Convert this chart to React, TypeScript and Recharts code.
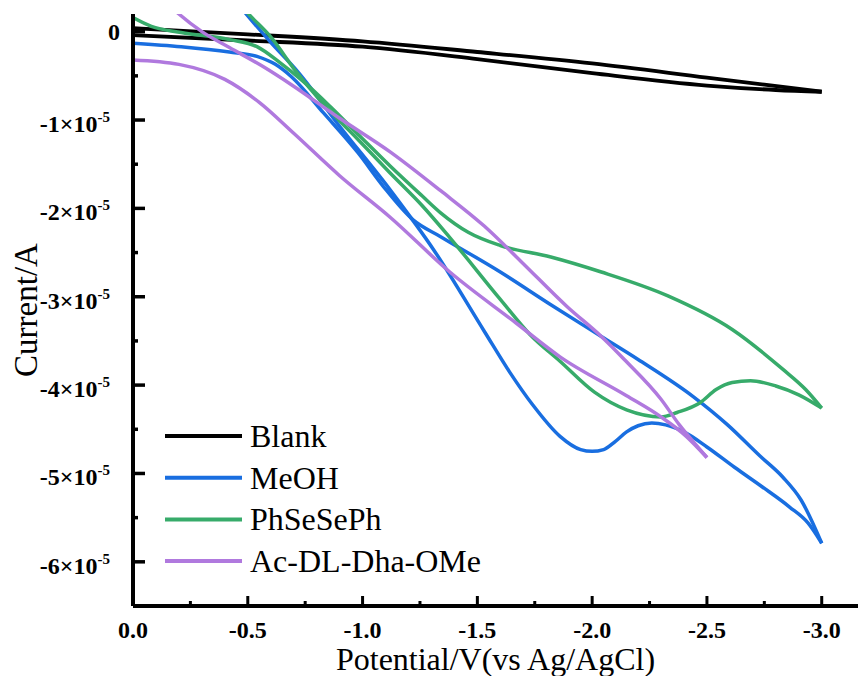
import { LineChart, Line, XAxis, YAxis, Legend, Label } from 'recharts'

// [potential (V), current (x1e-5 A)] pairs, one array per scan branch
type Pt = [number, number]

const blankOut: Pt[] = [[0, 0.04], [-0.5, -0.03], [-1.0, -0.11], [-1.5, -0.23], [-2.0, -0.36], [-2.5, -0.52], [-3.0, -0.68]]
const blankBack: Pt[] = [[0, -0.04], [-0.5, -0.1], [-1.0, -0.17], [-1.5, -0.31], [-2.0, -0.47], [-2.5, -0.61], [-2.8, -0.66], [-3.0, -0.68]]

const meohOut: Pt[] = [
  [-0.44, 0.37], [-0.49, 0.21], [-0.6, -0.12], [-0.72, -0.46], [-0.9, -1.07], [-1.12, -1.79], [-1.31, -2.47],
  [-1.53, -3.39], [-1.64, -3.85], [-1.74, -4.22], [-1.86, -4.58], [-1.95, -4.73], [-2.0, -4.75], [-2.05, -4.73],
  [-2.1, -4.64], [-2.15, -4.53], [-2.2, -4.46], [-2.26, -4.43], [-2.32, -4.45], [-2.4, -4.53], [-2.5, -4.7],
  [-2.62, -4.93], [-2.74, -5.15], [-2.86, -5.38], [-2.94, -5.56], [-3.0, -5.79],
]
const meohBack: Pt[] = [
  [0, -0.13], [-0.21, -0.17], [-0.42, -0.23], [-0.54, -0.28], [-0.62, -0.37], [-0.69, -0.51], [-0.83, -0.92],
  [-0.98, -1.37], [-1.09, -1.75], [-1.22, -2.13], [-1.34, -2.32], [-1.6, -2.72], [-1.82, -3.09], [-2.04, -3.45],
  [-2.2, -3.71], [-2.44, -4.13], [-2.59, -4.45], [-2.73, -4.8], [-2.83, -5.04], [-2.91, -5.3], [-3.0, -5.79],
]

const phseOut: Pt[] = [
  [-0.45, 0.36], [-0.5, 0.21], [-0.6, -0.06], [-0.71, -0.45], [-0.83, -0.82], [-0.98, -1.22], [-1.12, -1.6],
  [-1.26, -1.97], [-1.38, -2.33], [-1.6, -3.03], [-1.73, -3.43], [-1.86, -3.73], [-2.01, -4.08], [-2.15, -4.28],
  [-2.3, -4.36], [-2.37, -4.31], [-2.47, -4.2], [-2.54, -4.05], [-2.61, -3.97], [-2.69, -3.95], [-2.8, -4.01],
  [-2.9, -4.11], [-3.0, -4.26],
]
const phseBack: Pt[] = [
  [0, 0.16], [-0.08, 0.06], [-0.21, -0.01], [-0.42, -0.09], [-0.54, -0.17], [-0.64, -0.35], [-0.74, -0.56],
  [-0.86, -0.85], [-0.98, -1.16], [-1.12, -1.52], [-1.26, -1.86], [-1.34, -2.05], [-1.46, -2.27], [-1.6, -2.42],
  [-1.82, -2.55], [-2.04, -2.72], [-2.33, -2.99], [-2.61, -3.37], [-2.83, -3.82], [-2.93, -4.05], [-3.0, -4.26],
]

const dhaOut: Pt[] = [
  [-0.15, 0.32], [-0.2, 0.2], [-0.3, 0.0], [-0.42, -0.18], [-0.57, -0.4], [-0.69, -0.6], [-0.9, -0.98],
  [-1.12, -1.36], [-1.34, -1.8], [-1.53, -2.2], [-1.69, -2.6], [-1.89, -3.11], [-2.04, -3.45], [-2.14, -3.71],
  [-2.3, -4.16], [-2.38, -4.45], [-2.44, -4.64], [-2.5, -4.82],
]
const dhaBack: Pt[] = [
  [0, -0.32], [-0.2, -0.37], [-0.4, -0.54], [-0.55, -0.8], [-0.7, -1.15], [-0.9, -1.63], [-1.12, -2.1],
  [-1.38, -2.72], [-1.67, -3.3], [-1.86, -3.68], [-2.15, -4.12], [-2.3, -4.36], [-2.41, -4.58], [-2.5, -4.82],
]
// current spike at the start of the Ac-DL-Dha-OMe scan
const dhaSpike: Pt[] = [[0, 0.5], [0, -0.32]]

const xTicks = [0, -0.25, -0.5, -0.75, -1, -1.25, -1.5, -1.75, -2, -2.25, -2.5, -2.75, -3]
const yTicks = [0, -0.5, -1, -1.5, -2, -2.5, -3, -3.5, -4, -4.5, -5, -5.5, -6]

const SERIES = [
  { name: 'Blank', color: '#000000', width: 3.8, out: blankOut, back: blankBack },
  { name: 'MeOH', color: '#196ee0', width: 3.5, out: meohOut, back: meohBack },
  { name: 'PhSeSePh', color: '#37ab6a', width: 3.5, out: phseOut, back: phseBack },
  { name: 'Ac-DL-Dha-OMe', color: '#b079de', width: 3.5, out: dhaOut, back: dhaBack },
]

const FONT = '"Liberation Serif", "Times New Roman", Times, serif'

const toRows = (pts: Pt[]) => pts.map(([v, i]) => ({ v, i }))

function XTick({ x, y, payload }: any) {
  const v = payload.value as number
  const major = Math.abs(v * 2 - Math.round(v * 2)) < 1e-6
  return (
    <g>
      <line x1={x} x2={x} y1={y} y2={y - (major ? 10 : 5)} stroke="#000" strokeWidth={3} />
      {major && (
        <text x={x} y={y + 32} textAnchor="middle" fontFamily={FONT} fontWeight="bold" fontSize={24} fill="#000">
          {v.toFixed(1)}
        </text>
      )}
    </g>
  )
}

function YTick({ x, y, payload }: any) {
  const v = payload.value as number
  const major = Number.isInteger(v)
  return (
    <g>
      <line x1={x} x2={x + (major ? 12 : 5)} y1={y} y2={y} stroke="#000" strokeWidth={3.5} />
      {major && v === 0 && (
        <text x={x - 13} y={y + 8} textAnchor="end" fontFamily={FONT} fontWeight="bold" fontSize={24} fill="#000">
          0
        </text>
      )}
      {major && v !== 0 && (
        <text x={x - 23} y={y + 12} textAnchor="end" fontFamily={FONT} fontWeight="bold" fontSize={24} fill="#000">
          {`${v}×10`}
          <tspan dy={-10} fontSize={15}>-5</tspan>
        </text>
      )}
    </g>
  )
}

function LegendBox() {
  return (
    <svg width={360} height={170}>
      {SERIES.map((s, k) => {
        const cy = 22 + k * 41.7
        return (
          <g key={s.name}>
            <line x1={5} x2={82} y1={cy} y2={cy} stroke={s.color} strokeWidth={4} />
            <text x={90} y={cy + 11} fontFamily={FONT} fontSize={32} fill="#000">
              {s.name}
            </text>
          </g>
        )
      })}
    </svg>
  )
}

export default function App() {
  return (
    <div style={{ position: 'absolute', left: 0, top: 0, width: 858, height: 676, background: '#fff' }}>
      <LineChart width={858} height={676} margin={{ top: 14, right: 0, bottom: 0, left: 0 }}>
        <XAxis
          dataKey="v"
          type="number"
          domain={[-3.158, 0]}
          reversed
          allowDataOverflow
          ticks={xTicks}
          interval={0}
          height={70}
          tickSize={0}
          tickMargin={0}
          tickLine={false}
          tick={<XTick />}
          axisLine={{ stroke: '#000', strokeWidth: 4 }}
        >
          <Label
            content={(p: any) => {
              const vb = p.viewBox || { x: 133, y: 606, width: 725 }
              return (
                <text x={vb.x + vb.width / 2} y={vb.y + 64} textAnchor="middle" fontFamily={FONT} fontSize={32} fill="#000">
                  Potential/V(vs Ag/AgCl)
                </text>
              )
            }}
          />
        </XAxis>
        <XAxis
          xAxisId="top"
          orientation="top"
          type="number"
          domain={[0, 1]}
          height={0}
          tick={false}
          tickLine={false}
          axisLine={{ stroke: '#000', strokeWidth: 3 }}
        />
        <YAxis
          type="number"
          domain={[-6.5, 0.2]}
          allowDataOverflow
          ticks={yTicks}
          interval={0}
          width={133}
          tickSize={0}
          tickMargin={0}
          tickLine={false}
          tick={<YTick />}
          axisLine={{ stroke: '#000', strokeWidth: 4 }}
        >
          <Label
            content={(p: any) => {
              const vb = p.viewBox || { x: 0, y: 14, height: 592 }
              const cx = 37
              const cy = vb.y + vb.height / 2
              return (
                <text x={cx} y={cy} transform={`rotate(-90 ${cx} ${cy})`} textAnchor="middle" fontFamily={FONT} fontSize={33} fill="#000">
                  Current/A
                </text>
              )
            }}
          />
        </YAxis>
        {SERIES.flatMap((s) => [
          <Line
            key={`${s.name}-out`}
            name={s.name}
            data={toRows(s.out)}
            dataKey="i"
            type="monotone"
            stroke={s.color}
            strokeWidth={s.width}
            dot={false}
            activeDot={false}
            isAnimationActive={false}
          />,
          <Line
            key={`${s.name}-back`}
            name={`${s.name} return`}
            legendType="none"
            data={toRows(s.back)}
            dataKey="i"
            type="monotone"
            stroke={s.color}
            strokeWidth={s.width}
            dot={false}
            activeDot={false}
            isAnimationActive={false}
          />,
        ])}
        <Line
          name="Ac-DL-Dha-OMe spike"
          legendType="none"
          data={toRows(dhaSpike)}
          dataKey="i"
          type="linear"
          stroke="#b079de"
          strokeWidth={3.5}
          dot={false}
          activeDot={false}
          isAnimationActive={false}
        />
        <Legend
          layout="vertical"
          align="center"
          verticalAlign="middle"
          wrapperStyle={{ left: 160, top: 414, width: 360, height: 170 }}
          content={() => <LegendBox />}
        />
      </LineChart>
    </div>
  )
}
